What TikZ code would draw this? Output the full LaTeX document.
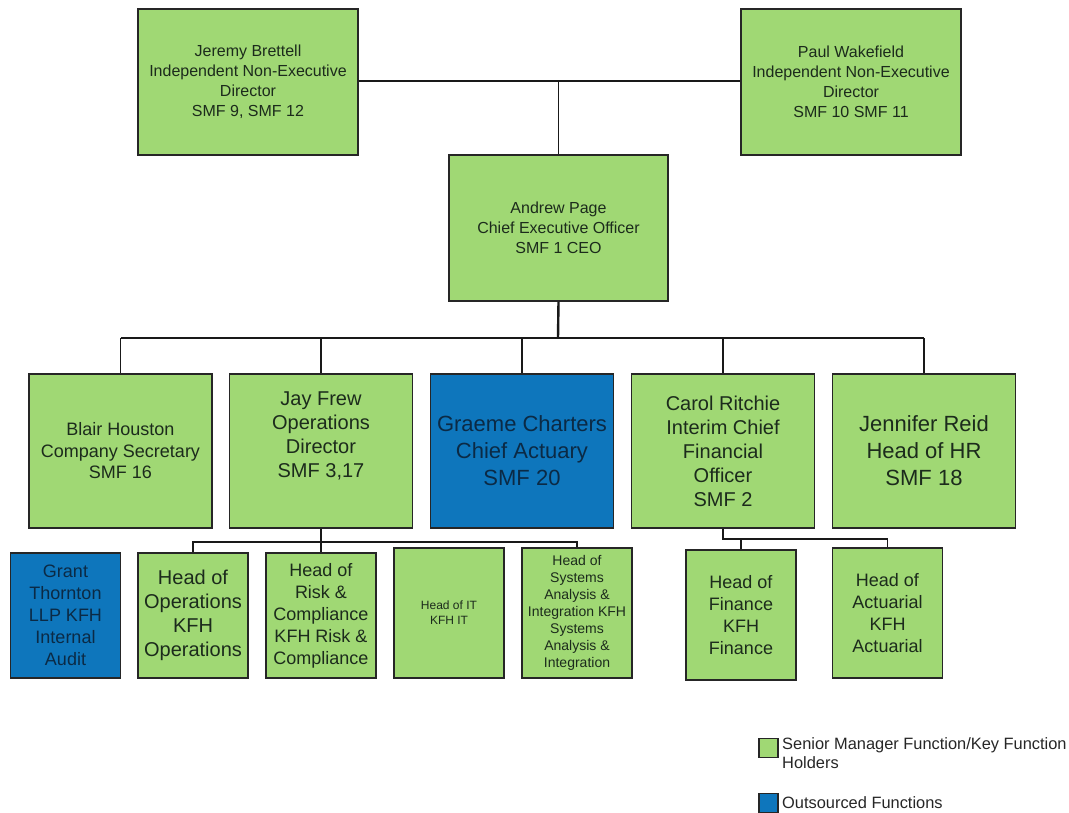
\documentclass[tikz,border=0pt]{standalone}
\usepackage{fontspec}
\setmainfont{Liberation Sans}
\definecolor{smfgreen}{HTML}{A0D874}
\definecolor{outblue}{HTML}{0E76BC}
\definecolor{boxtext}{HTML}{1C2B1C}
\definecolor{bluetext}{HTML}{0B2A45}

\begin{document}
\begin{tikzpicture}[x=1pt, y=-1pt,
    role/.style={draw=black!85, line width=1.6pt, fill=smfgreen, text=boxtext,
        align=center, inner sep=2pt},
    outsourced/.style={role, fill=outblue, text=bluetext},
    board/.style={role, minimum width=220pt, minimum height=146pt},
    chief/.style={minimum width=183pt, minimum height=154pt},
    staff/.style={minimum width=110pt, minimum height=125pt},
    link/.style={draw=black!90, line width=1.3pt},
    swatch/.style={draw=black!85, line width=1.4pt, minimum size=19pt, inner sep=0pt}]

    % 0. Canvas
    \useasboundingbox (0,0) rectangle (1069,813);

    % 1. Board and CEO
    \node[board, font=\fontsize{16}{20}\selectfont] (jeremy) at (248,82)
        {Jeremy Brettell\\Independent Non-Executive\\Director\\SMF 9, SMF 12};
    \node[board, font=\fontsize{16}{20}\selectfont] (paul) at (851,82)
        {Paul Wakefield\\Independent Non-Executive\\Director\\SMF 10 SMF 11};
    \node[board, minimum width=219pt, font=\fontsize{16}{20}\selectfont] (andrew) at (558.5,228)
        {Andrew Page\\Chief Executive Officer\\SMF 1 CEO};

    % 2. Directors
    \node[role, chief, font=\fontsize{18}{21.5}\selectfont] (blair) at (120.5,451)
        {Blair Houston\\Company Secretary\\SMF 16};
    % Jay's text sits above the middle of its box
    \node[role, chief] (jay) at (321,451) {};
    \node[align=center, text=boxtext, font=\fontsize{20}{24}\selectfont] (jaytext) at (321,436)
        {Jay Frew\\Operations\\Director\\SMF 3,17};
    \node[outsourced, chief, font=\fontsize{22}{27}\selectfont] (graeme) at (522,451)
        {Graeme Charters\\Chief Actuary\\SMF 20};
    \node[role, chief, font=\fontsize{20}{24}\selectfont] (carol) at (723,451)
        {Carol Ritchie\\Interim Chief\\Financial\\Officer\\SMF 2};
    \node[role, chief, font=\fontsize{22}{27}\selectfont] (jennifer) at (924,451)
        {Jennifer Reid\\Head of HR\\SMF 18};

    % 3. Key function holders
    \node[outsourced, staff, font=\fontsize{18}{22}\selectfont] (grant) at (65.5,615.5)
        {Grant\\Thornton\\LLP KFH\\Internal\\Audit};
    \node[role, staff, font=\fontsize{20}{24}\selectfont] (headops) at (193,615.5)
        {Head of\\Operations\\KFH\\Operations};
    \node[role, staff, font=\fontsize{18}{22}\selectfont] (headrisk) at (321,615.5)
        {Head of\\Risk \&\\Compliance\\KFH Risk \&\\Compliance};
    \node[role, staff, minimum height=130pt, font=\fontsize{12}{15}\selectfont] (headit) at (449,613)
        {Head of IT\\KFH IT};
    \node[role, staff, minimum height=130pt, font=\fontsize{14}{17}\selectfont] (headsys) at (577,613)
        {Head of\\Systems\\Analysis \&\\Integration KFH\\Systems\\Analysis \&\\Integration};
    \node[role, staff, minimum height=130pt, font=\fontsize{18}{22}\selectfont] (headfin) at (741,615)
        {Head of\\Finance\\KFH\\Finance};
    \node[role, staff, minimum height=130pt, font=\fontsize{18}{22}\selectfont] (headact) at (887.5,613)
        {Head of\\Actuarial\\KFH\\Actuarial};

    % 4. Connectors
    \coordinate (bus) at (558,338);
    \coordinate (jaybus) at (321,542);
    \coordinate (carolbus) at (723,539);

    \draw[link] (jeremy.east |- 0,81) -- (paul.west |- 0,81);
    \draw[link] (andrew.north) -- (andrew.north |- 0,81);

    \draw[link, line width=2.4pt] (andrew.south) -- (bus);
    \draw[link] (blair.north |- bus) -- (jennifer.north |- bus);
    \foreach \n in {blair,jay,graeme,carol,jennifer}
        \draw[link] (\n.north) -- (\n.north |- bus);

    \draw[link] (jay.south) -- (headrisk.north);
    \draw[link] (headops.north) -- (headops.north |- jaybus) -- (headsys.north |- jaybus) -- (headsys.north);

    \draw[link] (carol.south) -- (carolbus) -- (headact.north |- carolbus) -- (headact.north);
    \draw[link] (headfin.north) -- (headfin.north |- carolbus);

    % 5. Legend
    \node[swatch, fill=smfgreen] (legsmf) at (768.5,748) {};
    \node[swatch, fill=outblue] (legout) at (768.5,803) {};
    \node[anchor=north west, inner sep=0pt, align=left, text=black!85,
        font=\fontsize{16.4}{19}\selectfont] (legsmftext) at (782,737)
        {Senior Manager Function/Key Function\\Holders};
    \node[anchor=west, inner sep=0pt, text=black!85,
        font=\fontsize{16.4}{19}\selectfont] (legouttext) at (782,803)
        {Outsourced Functions};

\end{tikzpicture}
\end{document}
